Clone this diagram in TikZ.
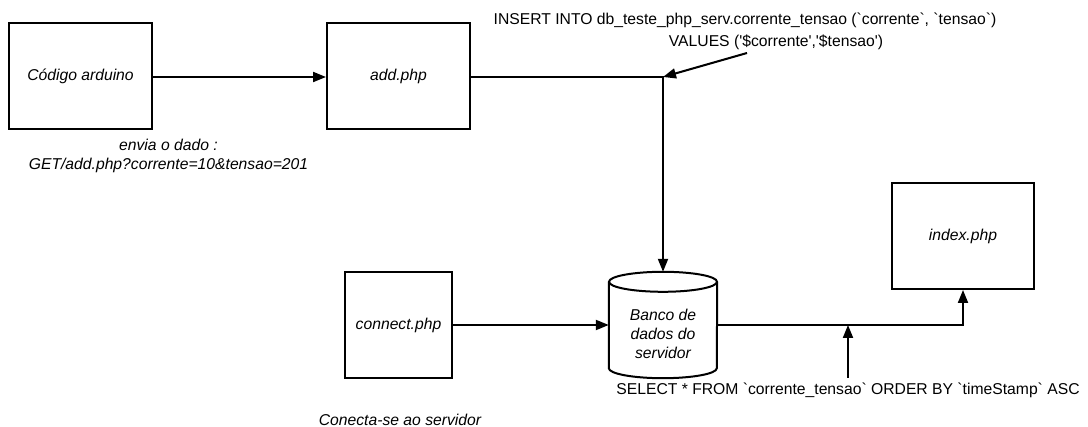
\documentclass[tikz,border=0pt]{standalone}
\usepackage{fontspec}
\newfontfamily\lsans{Liberation Sans}
\usetikzlibrary{arrows.meta,calc}
\tikzset{
  x=1pt,y=1pt,
  ln/.style={line width=2pt, draw=black},
  conn/.style={ln, -{Triangle[length=13pt,width=10pt]}},
  boxnode/.style={draw=black, line width=2pt, fill=white, inner sep=0,
    font=\lsans\itshape\fontsize{15.7}{19}\selectfont},
  itlbl/.style={inner sep=0, align=center, font=\lsans\itshape\fontsize{15.7}{18.5}\selectfont},
  sqllbl/.style={inner sep=0, align=center, font=\lsans\fontsize{15.7}{22}\selectfont},
}
\begin{document}
\begin{tikzpicture}
\useasboundingbox (0,0) rectangle (1088,-427);

% boxes
\node[boxnode, minimum width=143, minimum height=106] (arduino) at (80.5,-76) {Código arduino};
\node[boxnode, minimum width=143, minimum height=106] (add) at (398.5,-76) {add.php};
\node[boxnode, minimum width=107, minimum height=106] (connect) at (398.5,-325) {connect.php};
\node[boxnode, minimum width=142, minimum height=106] (index) at (963,-236) {index.php};

% database cylinder
\node[minimum width=108, minimum height=106, inner sep=0] (db) at (663,-325) {};
\draw[ln, fill=white] ($(db.north west)+(0,-10)$) -- ($(db.south west)+(0,10)$)
  arc[start angle=180, end angle=360, x radius=54pt, y radius=10pt]
  -- ($(db.north east)+(0,-10)$);
\draw[ln] ($(db.north)+(0,-10)$) ellipse[x radius=54pt, y radius=10pt];
\node[itlbl, font=\lsans\itshape\fontsize{15.7}{19}\selectfont] (dbtext) at (663,-334) {Banco de\\dados do\\servidor};

% labels
\node[itlbl] (envia) at (168.5,-156) {envia o dado :\\GET/add.php?corrente=10\&tensao=201};
\node[itlbl] (conecta) at (400,-420) {Conecta-se ao servidor};
\node[sqllbl] (insert) at (745,-31) {INSERT INTO db\_teste\_php\_serv.corrente\_tensao (`corrente`, `tensao`)\\\hspace*{62pt}VALUES ('\$corrente','\$tensao')};
\node[sqllbl, outer ysep=5pt] (select) at (848,-390) {SELECT * FROM `corrente\_tensao` ORDER BY `timeStamp` ASC};
\coordinate (ins) at (747,-53);

% connectors
\draw[conn] (arduino.east |- 0,-77) -- (add.west |- 0,-77);
\draw[conn] (add.east |- 0,-77) -| (db.north);
\draw[conn] (ins) -- (add.east |- 0,-77 -| db.north);
\draw[conn] (connect.east) -- (connect.east -| db.west);
\draw[conn] (db.east) -| (index.south);
\draw[conn] (select.north) -- (select.north |- db.east);
\end{tikzpicture}
\end{document}
